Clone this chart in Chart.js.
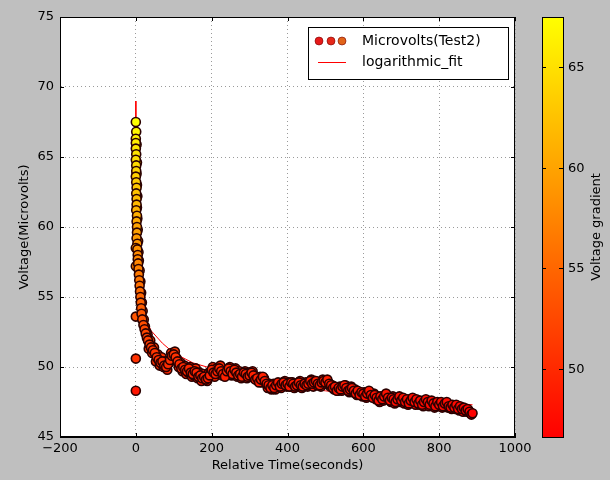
<!DOCTYPE html>
<html>
<head>
<meta charset="utf-8">
<script src="https://cdn.jsdelivr.net/npm/chart.js@4/dist/chart.umd.min.js"></script>
<style>
  html, body { margin: 0; padding: 0; background: #bfbfbf; }
  canvas { display: block; }
</style>
</head>
<body>
<canvas id="voltChart" width="610" height="480"></canvas>
<script>
// scatter data (seconds, microvolts)
var timeSec = [
    0, 0, 0, 0, 1, 0, 1, 1, 0, 1, 2, 1, 2, 2, 1, 3, 2, 3, 3, 2,
    4, 0, 4, 5, 5, 0, 6, 7, 8, 9, 10, 11, 12, 13, 14, 0, 15, 17, 20, 23,
    26, 29, 0, 0, 32, 36, 40, 45, 50, 55, 60, 65, 70, 75, 80, 85, 90, 95, 100, 105,
    110, 115, 120, 125, 130, 135, 140, 145, 150, 155, 160, 165, 170, 175, 180, 185, 190, 195, 200, 205,
    210, 215, 220, 225, 230, 235, 240, 245, 250, 255, 260, 265, 270, 275, 280, 285, 290, 295, 300, 305,
    310, 315, 320, 325, 330, 335, 340, 345, 350, 355, 360, 365, 370, 375, 380, 385, 390, 395, 400, 405,
    410, 415, 420, 425, 430, 435, 440, 445, 450, 455, 460, 465, 470, 475, 480, 485, 490, 495, 500, 505,
    510, 515, 520, 525, 530, 535, 540, 545, 550, 555, 560, 565, 570, 575, 580, 585, 590, 595, 600, 605,
    610, 615, 620, 625, 630, 635, 640, 645, 650, 655, 660, 665, 670, 675, 680, 685, 690, 695, 700, 705,
    710, 715, 720, 725, 730, 735, 740, 745, 750, 755, 760, 765, 770, 775, 780, 785, 790, 795, 800, 805,
    810, 815, 820, 825, 830, 835, 840, 845, 850, 855, 860, 865, 870, 875, 880, 885, 888
];
var microvolts = [
    67.5, 66.3, 66.0, 65.6, 65.2, 64.8, 64.4, 64.0, 63.6, 63.2, 62.8, 62.4, 62.0, 61.6, 61.2, 60.8, 60.4, 60.0, 59.6, 59.2,
    58.8, 58.5, 58.4, 58.0, 57.7, 57.2, 57.4, 57.0, 56.6, 56.2, 55.8, 55.4, 55.0, 54.6, 54.2, 53.6, 53.8, 53.4, 53.0, 52.7,
    52.4, 52.1, 50.6, 48.3, 51.9, 51.6, 51.4, 51.2, 51.0, 50.7, 50.5, 50.3, 50.4, 50.1, 50.0, 50.2, 50.5, 50.8, 50.9, 50.7,
    50.4, 50.2, 49.9, 50.0, 49.8, 49.7, 49.9, 49.6, 49.5, 49.7, 49.6, 49.3, 49.4, 49.2, 49.3, 49.1, 49.2, 49.4, 49.8, 49.6,
    49.5, 49.7, 49.9, 49.7, 49.5, 49.3, 49.7, 49.9, 49.7, 49.5, 49.8, 49.6, 49.4, 49.5, 49.3, 49.6, 49.5, 49.3, 49.4, 49.6,
    49.4, 49.1, 49.2, 48.9, 49.1, 49.3, 49.0, 48.8, 48.7, 48.5, 48.7, 48.5, 48.7, 48.9, 48.6, 48.8, 48.9, 48.7, 48.8, 48.6,
    48.9, 48.8, 48.6, 48.7, 48.9, 48.7, 48.6, 48.8, 48.7, 48.8, 49.0, 48.8, 48.9, 49.0, 48.8, 48.7, 48.9, 49.0, 48.9, 49.1,
    48.8, 48.7, 48.5, 48.6, 48.3, 48.5, 48.4, 48.6, 48.7, 48.5, 48.3, 48.4, 48.5, 48.3, 48.1, 48.3, 48.0, 48.2, 48.1, 47.9,
    48.1, 48.3, 48.0, 47.8, 48.0, 47.8, 47.6, 47.9, 47.7, 47.9, 48.1, 47.8, 47.6, 47.8, 47.7, 47.5, 47.7, 47.9, 47.6, 47.8,
    47.5, 47.7, 47.4, 47.6, 47.8, 47.5, 47.7, 47.4, 47.6, 47.3, 47.5, 47.7, 47.5, 47.3, 47.6, 47.4, 47.2, 47.5, 47.3, 47.5,
    47.2, 47.4, 47.5, 47.2, 47.1, 47.3, 47.1, 47.3, 47.0, 47.2, 47.0, 47.1, 46.9, 47.0, 46.8, 46.6, 46.7
];
// readings in between the ones above
var timeSecB = [
    1, 2, 3, 2, 3, 4, 3, 4, 5, 6,
    7, 8, 10, 12, 14, 16, 18, 21, 24, 28,
    31, 34, 38, 43, 48, 53, 58, 63, 68, 73,
    78, 83, 88, 93, 98, 103, 108, 113, 118, 123,
    128, 133, 138, 143, 148, 153, 158, 163, 168, 173,
    178, 183, 188, 193, 198, 203, 208, 213, 218, 223,
    228, 233, 238, 243, 248, 253, 258, 263, 268, 273,
    278, 283, 288, 293, 298, 303, 308, 313, 318, 323,
    328, 333, 338, 343, 348, 353, 358, 363, 368, 373,
    378, 383, 388, 393, 398, 403, 408, 413, 418, 423,
    428, 433, 438, 443, 448, 453, 458, 463, 468, 473,
    478, 483, 488, 493, 498, 503, 508, 513, 518, 523,
    528, 533, 538, 543, 548, 553, 558, 563, 568, 573,
    578, 583, 588, 593, 598, 603, 608, 613, 618, 623,
    628, 633, 638, 643, 648, 653, 658, 663, 668, 673,
    678, 683, 688, 693, 698, 703, 708, 713, 718, 723,
    728, 733, 738, 743, 748, 753, 758, 763, 768, 773,
    778, 783, 788, 793, 798, 803, 808, 813, 818, 823,
    828, 833, 838, 843, 848, 853, 858, 863, 868, 873,
    878, 883
];
var microvoltsB = [
    66.8, 65.9, 64.6, 63.8, 63.0, 62.2, 61.4, 60.6, 59.8, 59.0,
    58.2, 57.6, 56.9, 56.1, 55.3, 54.6, 54.0, 53.4, 52.9, 52.5,
    52.3, 51.3, 51.9, 51.0, 51.4, 50.4, 50.9, 50.1, 50.7, 50.0,
    50.4, 49.8, 50.3, 51.0, 50.6, 51.1, 50.6, 50.0, 50.3, 49.7,
    50.1, 49.5, 49.6, 50.0, 49.3, 49.4, 49.9, 49.2, 49.6, 49.0,
    49.5, 49.3, 49.0, 49.6, 49.6, 50.0, 49.3, 49.9, 49.6, 50.1,
    49.4, 49.6, 49.5, 49.5, 50.0, 49.4, 49.6, 49.9, 49.3, 49.7,
    49.2, 49.5, 49.7, 49.2, 49.6, 49.3, 49.7, 49.2, 49.3, 49.0,
    49.3, 48.9, 49.2, 48.9, 48.5, 48.8, 48.4, 48.8, 48.4, 48.8,
    48.7, 48.5, 48.9, 49.0, 48.6, 48.9, 48.6, 48.9, 48.5, 48.8,
    48.6, 49.0, 48.5, 48.7, 48.9, 48.6, 48.8, 49.1, 48.6, 49.0,
    48.7, 48.9, 48.6, 49.1, 48.8, 49.0, 48.9, 48.6, 48.7, 48.4,
    48.5, 48.3, 48.6, 48.3, 48.5, 48.7, 48.4, 48.2, 48.6, 48.2,
    48.4, 48.0, 48.2, 48.1, 47.9, 48.2, 47.8, 48.2, 48.1, 47.9,
    48.1, 47.7, 47.9, 47.5, 47.8, 47.6, 48.0, 47.9, 47.7, 47.5,
    47.9, 47.4, 47.6, 47.8, 47.5, 47.7, 47.4, 47.6, 47.3, 47.7,
    47.5, 47.6, 47.3, 47.6, 47.3, 47.5, 47.2, 47.6, 47.4, 47.2,
    47.5, 47.3, 47.1, 47.4, 47.2, 47.4, 47.1, 47.3, 47.3, 47.1,
    47.3, 47.0, 47.2, 47.0, 47.1, 46.9, 47.1, 46.8, 47.0, 46.8,
    46.9, 46.7
];

// logarithmic fit
var fitTime = [0.003, 0.01, 0.1, 0.5, 1, 2, 5, 10, 20, 40, 70, 100, 150, 200, 300, 400, 500, 600, 700, 800, 888];
var fitVolts = [69.0, 66.9, 62.9, 60.2, 59.0, 57.8, 56.2, 55.0, 53.8, 52.6, 51.7, 51.0, 50.3, 49.9, 49.1, 48.6, 48.3, 48.0, 47.7, 47.5, 47.3];

var colorbarTicks = [50, 55, 60, 65];
var seriesLabel = 'Microvolts(Test2)';
var fitLabel = 'logarithmic_fit';

var allVolts = microvolts.concat(microvoltsB);
var cbMin = Math.min.apply(null, allVolts);
var cbMax = Math.max.apply(null, allVolts);
var FONT = '"DejaVu Sans", sans-serif';

// matplotlib "autumn" colormap: red -> yellow
function autumn(v) {
    var f = (v - cbMin) / (cbMax - cbMin);
    f = Math.max(0, Math.min(1, f));
    return 'rgb(255,' + Math.round(255 * f) + ',0)';
}

function buildPoints(xs, ys) {
    var pts = [];
    for (var i = 0; i < xs.length; i++) {
        pts.push({x: xs[i], y: ys[i]});
    }
    return pts;
}

// mix the two passes so neither sits fully on top
function mergePoints(a, b) {
    var out = [];
    var n = Math.max(a.length, b.length);
    for (var i = 0; i < n; i++) {
        if (i < a.length) out.push(a[i]);
        if (i < b.length) out.push(b[i]);
    }
    return out;
}

var figurePlugin = {
    id: 'figure',
    beforeDraw: function(chart) {
        var ctx = chart.ctx, a = chart.chartArea;
        ctx.save();
        ctx.fillStyle = '#bfbfbf';
        ctx.fillRect(0, 0, chart.width, chart.height);
        ctx.fillStyle = '#ffffff';
        ctx.fillRect(a.left, a.top, a.right - a.left, a.bottom - a.top);
        ctx.restore();
    },
    afterDraw: function(chart) {
        var ctx = chart.ctx, a = chart.chartArea;
        var xs = chart.scales.x, ys = chart.scales.y;
        ctx.save();
        // inward ticks, on all four sides
        ctx.strokeStyle = '#000';
        ctx.lineWidth = 1;
        ctx.beginPath();
        xs.ticks.forEach(function(t) {
            var px = Math.round(xs.getPixelForValue(t.value)) + 0.5;
            ctx.moveTo(px, a.bottom); ctx.lineTo(px, a.bottom - 4);
            ctx.moveTo(px, a.top); ctx.lineTo(px, a.top + 4);
        });
        ys.ticks.forEach(function(t) {
            var py = Math.round(ys.getPixelForValue(t.value)) + 0.5;
            ctx.moveTo(a.left, py); ctx.lineTo(a.left + 4, py);
            ctx.moveTo(a.right, py); ctx.lineTo(a.right - 4, py);
        });
        ctx.stroke();
        ctx.strokeRect(a.left + 0.5, a.top + 0.5, a.right - a.left - 1, a.bottom - a.top - 1);

        // legend
        var lx = 308, ly = 27, lw = 200, lh = 52;
        ctx.fillStyle = '#fff';
        ctx.fillRect(lx, ly, lw, lh);
        ctx.strokeRect(lx + 0.5, ly + 0.5, lw, lh);
        var dotCols = ['rgb(230,25,25)', 'rgb(230,40,25)', 'rgb(225,100,25)'];
        var dotX = [319, 331, 342];
        for (var i = 0; i < 3; i++) {
            ctx.beginPath();
            ctx.arc(dotX[i], 41, 4, 0, Math.PI * 2);
            ctx.fillStyle = dotCols[i];
            ctx.fill();
            ctx.lineWidth = 0.6;
            ctx.strokeStyle = '#700';
            ctx.stroke();
        }
        ctx.beginPath();
        ctx.strokeStyle = '#ff0000';
        ctx.lineWidth = 1;
        ctx.moveTo(318, 62.5); ctx.lineTo(346, 62.5);
        ctx.stroke();
        ctx.fillStyle = '#000';
        ctx.font = '14px ' + FONT;
        ctx.textBaseline = 'middle';
        ctx.textAlign = 'left';
        ctx.fillText(seriesLabel, 362, 41);
        ctx.fillText(fitLabel, 362, 62);

        // colorbar, same height as the axes
        var cx = 542, cw = 21;
        var grad = ctx.createLinearGradient(0, a.bottom, 0, a.top);
        grad.addColorStop(0, autumn(cbMin));
        grad.addColorStop(1, autumn(cbMax));
        ctx.fillStyle = grad;
        ctx.fillRect(cx, a.top, cw, a.bottom - a.top);
        ctx.strokeStyle = '#000';
        ctx.strokeRect(cx + 0.5, a.top + 0.5, cw, a.bottom - a.top);
        ctx.fillStyle = '#000';
        ctx.font = '13px ' + FONT;
        ctx.beginPath();
        colorbarTicks.forEach(function(v) {
            var py = a.bottom - (v - cbMin) / (cbMax - cbMin) * (a.bottom - a.top);
            py = Math.round(py) + 0.5;
            ctx.moveTo(cx, py); ctx.lineTo(cx + 4, py);
            ctx.moveTo(cx + cw, py); ctx.lineTo(cx + cw - 4, py);
            ctx.fillText(String(v), cx + cw + 5, py);
        });
        ctx.stroke();
        ctx.translate(597, (a.top + a.bottom) / 2);
        ctx.rotate(-Math.PI / 2);
        ctx.textAlign = 'center';
        ctx.fillText('Voltage gradient', 0, 0);
        ctx.restore();
    }
};

function loadChart() {
    var ctx = document.getElementById('voltChart').getContext('2d');
    var gridDash = {display: true, color: '#000', dash: [1, 3]};
    var scatterPoints = mergePoints(buildPoints(timeSec, microvolts), buildPoints(timeSecB, microvoltsB));

    new Chart(ctx, {
        type: 'scatter',
        data: {
            datasets: [{
                label: seriesLabel,
                data: scatterPoints,
                pointRadius: 4.5,
                pointHoverRadius: 4.5,
                pointBorderWidth: 1.6,
                pointBorderColor: '#2a0000',
                pointBackgroundColor: function(c) { return c.raw ? autumn(c.raw.y) : '#f00'; },
                order: 1
            }, {
                label: fitLabel,
                type: 'line',
                data: buildPoints(fitTime, fitVolts),
                borderColor: '#ff0000',
                borderWidth: 1,
                pointRadius: 0,
                fill: false,
                tension: 0,
                order: 2
            }]
        },
        options: {
            responsive: false,
            animation: false,
            events: [],
            layout: {padding: {top: 17, right: 95, left: 0, bottom: 0}},
            plugins: {legend: {display: false}, tooltip: {enabled: false}},
            scales: {
                x: {
                    type: 'linear',
                    min: -200,
                    max: 1000,
                    afterFit: function(s) { s.height = 43; },
                    grid: {color: '#9a9a9a', drawTicks: false, lineWidth: 1},
                    border: gridDash,
                    ticks: {
                        stepSize: 200,
                        padding: 4,
                        color: '#000',
                        font: {family: FONT, size: 13},
                        callback: function(v) { return String(v).replace('-', '\u2212'); }
                    },
                    title: {
                        display: true,
                        text: 'Relative Time(seconds)',
                        color: '#000',
                        font: {family: FONT, size: 13},
                        padding: {top: 0, bottom: 7}
                    }
                },
                y: {
                    min: 45,
                    max: 75,
                    afterFit: function(s) { s.width = 60; },
                    grid: {color: '#9a9a9a', drawTicks: false, lineWidth: 1},
                    border: gridDash,
                    ticks: {
                        stepSize: 5,
                        padding: 6,
                        color: '#000',
                        font: {family: FONT, size: 13}
                    },
                    title: {
                        display: true,
                        text: 'Voltage(Microvolts)',
                        color: '#000',
                        font: {family: FONT, size: 13},
                        padding: {top: 17, bottom: 0}
                    }
                }
            }
        },
        plugins: [figurePlugin]
    });
}

loadChart();
</script>
</body>
</html>
